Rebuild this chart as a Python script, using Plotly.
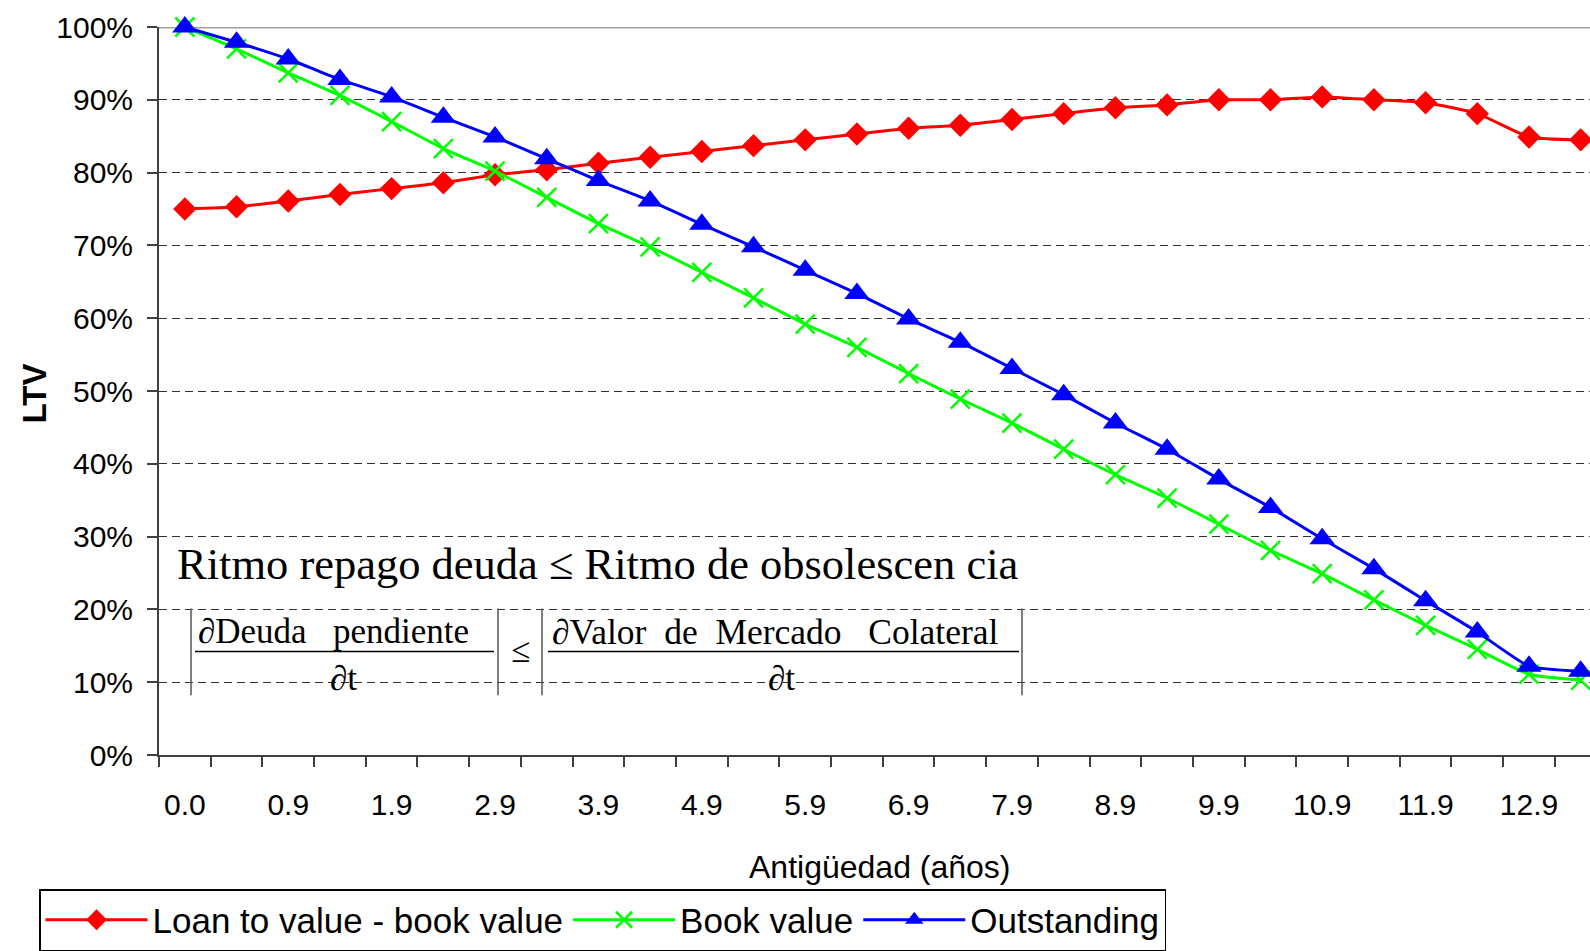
import plotly.graph_objects as go

# ---------------- data ----------------
categories = ["0.0", "0.4", "0.9", "1.4", "1.9", "2.4", "2.9", "3.4", "3.9", "4.4",
              "4.9", "5.4", "5.9", "6.4", "6.9", "7.4", "7.9", "8.4", "8.9", "9.4",
              "9.9", "10.4", "10.9", "11.4", "11.9", "12.4", "12.9", "13.4"]
ltv_book_value = [75.0, 75.3, 76.1, 77.0, 77.8, 78.6, 79.7, 80.4, 81.3, 82.1,
                  82.9, 83.7, 84.5, 85.3, 86.1, 86.5, 87.3, 88.1, 88.9, 89.3,
                  90.0, 90.0, 90.4, 90.0, 89.6, 88.1, 84.9, 84.5]
book_value = [100.0, 97.0, 93.7, 90.6, 87.0, 83.3, 80.2, 76.6, 73.0, 69.8,
              66.3, 62.8, 59.2, 56.0, 52.4, 48.9, 45.6, 42.0, 38.5, 35.3,
              31.7, 28.1, 24.9, 21.3, 17.8, 14.5, 11.1, 10.3]
outstanding = [100.0, 97.9, 95.6, 92.8, 90.4, 87.6, 84.9, 81.9, 78.9, 76.1,
               72.9, 69.8, 66.6, 63.4, 59.9, 56.7, 53.1, 49.5, 45.6, 42.0,
               37.9, 34.0, 29.7, 25.6, 21.2, 16.9, 12.2, 11.5]
series_names = ["Loan to value - book value", "Book value", "Outstanding"]
y_ticks = list(range(0, 101, 10))
tick_idx = list(range(0, len(categories), 2))
tick_labels = [categories[i] for i in tick_idx]

# ---------------- layout geometry ----------------
W, H = 1590, 951
ML, MR, MT, MB = 159, 0, 27, 193
PW, PH = W - ML - MR, H - MT - MB


def px(x):
    return (x - ML) / PW


def py(y):
    return (H - MB - y) / PH


SANS = "Liberation Sans, Arial, sans-serif"
SERIF = "Liberation Serif, Times New Roman, serif"

xi = list(range(len(categories)))

fig = go.Figure()
fig.add_trace(go.Scatter(
    x=xi, y=ltv_book_value, name=series_names[0], mode="lines+markers",
    line=dict(color="#FF0000", width=3, shape="spline", smoothing=0.5),
    marker=dict(symbol="diamond", size=18, color="#FF0000"), cliponaxis=False))
fig.add_trace(go.Scatter(
    x=xi, y=book_value, name=series_names[1], mode="lines+markers",
    line=dict(color="#00FF00", width=3, shape="spline", smoothing=0.5),
    marker=dict(symbol="x-thin", size=19, color="#00FF00",
                line=dict(color="#00FF00", width=2.5)), cliponaxis=False))
fig.add_trace(go.Scatter(
    x=xi, y=outstanding, name=series_names[2], mode="lines+markers",
    line=dict(color="#0000FF", width=3, shape="spline", smoothing=0.5),
    marker=dict(symbol="triangle-up", size=22, color="#0000FF"), cliponaxis=False))

shapes = []
# top border line at 100%
shapes.append(dict(type="line", xref="paper", yref="y", x0=0, x1=1, y0=100, y1=100,
                   line=dict(color="#A0A0A0", width=3), layer="below"))
# formula: fraction lines and absolute-value bars
for (x0, x1) in [(195, 494), (548, 1019)]:
    shapes.append(dict(type="line", xref="paper", yref="paper",
                       x0=px(x0), x1=px(x1), y0=py(654), y1=py(654),
                       line=dict(color="#000000", width=1.5)))
for xb in [191, 498, 542, 1022]:
    shapes.append(dict(type="line", xref="paper", yref="paper",
                       x0=px(xb), x1=px(xb), y0=py(611), y1=py(698),
                       line=dict(color="#555555", width=1.5)))

NB = "\u00a0"
annotations = [
    dict(text="Ritmo repago deuda ≤ Ritmo de obsolescen cia", xref="paper", yref="paper",
         x=px(175), y=py(566), xanchor="left", yanchor="middle", showarrow=False,
         font=dict(family=SERIF, size=44.5, color="#000000")),
    dict(text="∂Deuda" + NB * 3 + "pendiente", xref="paper", yref="paper",
         x=px(333), y=py(634), xanchor="center", yanchor="middle", showarrow=False,
         font=dict(family=SERIF, size=35, color="#000000")),
    dict(text="∂t", xref="paper", yref="paper",
         x=px(343), y=py(681), xanchor="center", yanchor="middle", showarrow=False,
         font=dict(family=SERIF, size=35, color="#000000")),
    dict(text="≤", xref="paper", yref="paper",
         x=px(520), y=py(653), xanchor="center", yanchor="middle", showarrow=False,
         font=dict(family=SERIF, size=35, color="#000000")),
    dict(text="∂Valor" + NB * 2 + "de" + NB * 2 + "Mercado" + NB * 3 + "Colateral",
         xref="paper", yref="paper",
         x=px(775), y=py(634), xanchor="center", yanchor="middle", showarrow=False,
         font=dict(family=SERIF, size=35.5, color="#000000")),
    dict(text="∂t", xref="paper", yref="paper",
         x=px(781), y=py(681), xanchor="center", yanchor="middle", showarrow=False,
         font=dict(family=SERIF, size=35, color="#000000")),
    # axis titles
    dict(text="<b>LTV</b>", xref="paper", yref="paper", x=px(34), y=py(395),
         xanchor="center", yanchor="middle", textangle=-90, showarrow=False,
         font=dict(family=SANS, size=33, color="#000000")),
    dict(text="Antigüedad (años)", xref="paper", yref="paper", x=px(880), y=py(870),
         xanchor="center", yanchor="middle", showarrow=False,
         font=dict(family=SANS, size=32, color="#000000")),
]

band = PW / 27.68
x_right = 27 + (W - (ML + 0.5 * band + 27 * band)) / band

fig.update_layout(
    width=W, height=H,
    margin=dict(l=ML, r=MR, t=MT, b=MB, pad=0),
    paper_bgcolor="#FFFFFF", plot_bgcolor="#FFFFFF",
    showlegend=True,
    legend=dict(orientation="h", x=px(39), xanchor="left", y=py(893), yanchor="top",
                bgcolor="#FFFFFF", bordercolor="#000000", borderwidth=1.5,
                font=dict(family=SANS, size=35, color="#000000"),
                itemwidth=102, traceorder="normal"),
    shapes=shapes,
    annotations=annotations,
    xaxis=dict(
        range=[-0.5, x_right],
        tickmode="array", tickvals=tick_idx, ticktext=tick_labels,
        ticks="", showgrid=False, zeroline=False,
        showline=True, linecolor="#404040", linewidth=2,
        tickfont=dict(family=SANS, size=30, color="#000000"),
        ticklabelstandoff=22,
        minor=dict(tickmode="linear", tick0=-0.5, dtick=1, ticks="outside",
                   ticklen=10, tickwidth=1.5, tickcolor="#404040", showgrid=False),
        automargin=False, fixedrange=True,
    ),
    yaxis=dict(
        range=[0, 100], tickmode="array", tickvals=y_ticks,
        ticktext=[f"{v}%" for v in y_ticks],
        showgrid=True, gridcolor="#303030", gridwidth=1, griddash="8px,5px",
        zeroline=False, showline=True, linecolor="#404040", linewidth=2,
        ticks="outside", ticklen=10, tickwidth=1.5, tickcolor="#404040",
        tickfont=dict(family=SANS, size=30, color="#000000"),
        ticklabelstandoff=8,
        automargin=False, fixedrange=True,
    ),
)

fig.write_html("out.html")
